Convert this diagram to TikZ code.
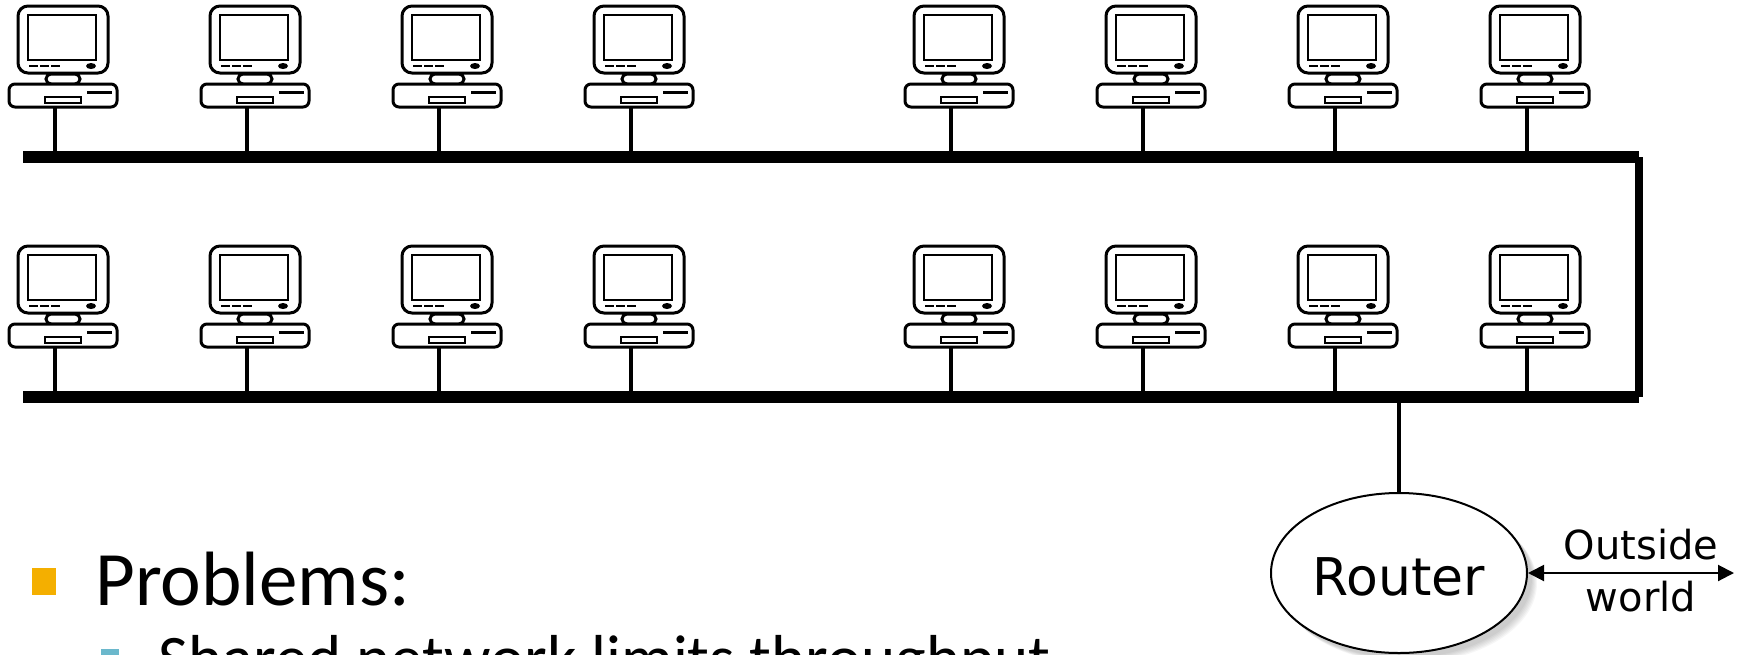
\documentclass[tikz,border=0pt]{standalone}
\usepackage{fontspec}
\setmainfont{Carlito}
\newfontfamily\handfont{DejaVu Sans}
\usetikzlibrary{positioning,arrows.meta,shapes.geometric}
\definecolor{C1}{RGB}{244,175,0}
\definecolor{C2}{RGB}{107,184,204}

\begin{document}
\begin{tikzpicture}[
  x=1pt, y=-1pt,
  case/.style = {draw=black, fill=white, line width=3pt, rounded corners=6pt},
  busline/.style = {line width=12pt, black},
  stem/.style = {line width=4pt, black},
  routerbox/.style = {
    ellipse, draw=black, fill=white, line width=2pt,
    minimum width=256pt, minimum height=160pt, inner sep=0pt,
    font=\handfont\fontsize{52}{58}\selectfont
  },
  lbl/.style = {align=center, inner sep=0pt, font=\handfont\fontsize{40}{52}\selectfont},
  ma/.style = {{Triangle[length=16pt,width=16pt]}-{Triangle[length=16pt,width=16pt]}, line width=2pt},
  computer/.pic = {
    % monitor
    \draw[case, rounded corners=10pt] (-37,-102) rectangle (53,-35);
    \draw[black, line width=2.5pt] (-27,-93) rectangle (41,-48);
    \foreach \d in {-26,-15,-4}
      \draw[black, line width=2.5pt] (\d,-42) -- ++(9,0);
    \fill[black] (36,-42) ellipse (5 and 3);
    % stand
    \draw[case, rounded corners=5pt] (-9,-34) rectangle (25,-24);
    % base
    \draw[case] (-46,-24) rectangle (62,-1);
    \draw[black, line width=3pt] (32,-16) -- (57,-16);
    \draw[black, line width=2.5pt] (-10,-11) rectangle (26,-5);
    \coordinate (-foot) at (0,0);
  }
]

\useasboundingbox (0,0) rectangle (1746,654);

%% ---------- Computers ----------
\foreach \r/\y in {a/108,b/348}
  \foreach \c/\x in {1/55,2/247,3/439,4/631,5/951,6/1143,7/1335,8/1527}
    \pic (pc\r\c) at (\x,\y) {computer};

%% ---------- Buses ----------
\coordinate (busaL) at (23,157);
\coordinate (busaR) at (1639,157);
\coordinate (busbL) at (23,397);
\coordinate (busbR) at (1639,397);

\foreach \r in {a,b}
  \foreach \c in {1,...,8}
    \draw[stem] (pc\r\c-foot) -- (pc\r\c-foot |- bus\r L);

\draw[busline] (busaL) -- (busaR);
\draw[busline] (busbL) -- (busbR);
\draw[line width=8pt] (busaR) -- (busbR);

%% ---------- Router ----------
\foreach \k in {12,10,...,2}
  \fill[black, opacity=0.035] (1399+4+\k*0.5,573+4+\k*0.5) ellipse (128 and 80);

\node[routerbox] (router) at (1399,573) {\raisebox{-3pt}[38pt][0pt]{Router}};
\coordinate (tap) at (1399,397);
\draw[stem] (tap) -- (router.north);

\coordinate (world) at (1734,573);
\draw[ma] (router.east) -- (world);
\node[lbl] (outside) at (1641,571) {Outside\\world};

%% ---------- Text ----------
\begin{scope}
  \clip (0,0) rectangle (1746,654);
  \node[fill=C1, minimum width=24pt, minimum height=27pt, inner sep=0pt] (bul1) at (44,581) {};
  \node[anchor=base west, inner sep=0pt, font=\fontsize{77}{90}\selectfont] (prob) at (95,605) {Problems:};
  \node[fill=C2, minimum width=18pt, minimum height=10pt, inner sep=0pt] (bul2) at (110,654) {};
  \node[anchor=base west, inner sep=0pt, font=\fontsize{65}{70}\selectfont] (shared) at (158,680) {Shared network limits throughput};
\end{scope}

\end{tikzpicture}
\end{document}
